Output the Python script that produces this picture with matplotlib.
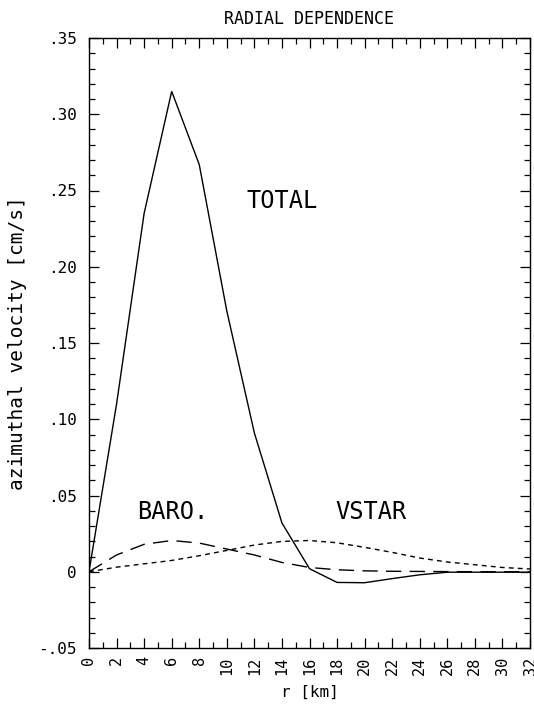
import matplotlib
matplotlib.use("Agg")
import matplotlib.pyplot as plt
import numpy as np
from matplotlib.ticker import MultipleLocator

r_km = [0, 2, 4, 6, 8, 10, 12, 14, 16, 18, 20, 22, 24, 26, 28, 30, 32]
total = [0.0, 0.110, 0.235, 0.315, 0.267, 0.171, 0.091, 0.032, 0.002, -0.007,
         -0.0072, -0.0045, -0.002, -0.0003, -0.0003, -0.0003, -0.0003]
baro = [0.0, 0.011, 0.018, 0.0205, 0.0188, 0.0149, 0.0110, 0.0061, 0.0028,
        0.0013, 0.0006, 0.0003, 0.0002, 0.0001, 0.0, 0.0, 0.0]
vstar = [0.0, 0.0030, 0.0052, 0.0074, 0.0105, 0.0140, 0.0175, 0.0199, 0.0205,
         0.0190, 0.0160, 0.0127, 0.0090, 0.0064, 0.0046, 0.0028, 0.0018]

x_ticks = list(range(0, 33, 2))
x_ticklabels = [str(v) for v in x_ticks]
y_ticks = [-0.05, 0.0, 0.05, 0.10, 0.15, 0.20, 0.25, 0.30, 0.35]
y_ticklabels = ["-.05", "0", ".05", ".10", ".15", ".20", ".25", ".30", ".35"]

FONT = "DejaVu Sans Mono"

fig = plt.figure(figsize=(5.34, 7.05), dpi=100)
ax = fig.add_axes([89 / 534, 1 - 648 / 705, 441 / 534, 610 / 705])

ax.plot(r_km, total, color="black", lw=1.0, solid_joinstyle="miter")
ax.plot(r_km, baro, color="black", lw=1.0, dashes=(11, 6))
ax.plot(r_km, vstar, color="black", lw=1.0, dashes=(3.5, 3))

ax.set_xlim(0, 32)
ax.set_ylim(-0.05, 0.35)

ax.set_xticks(x_ticks)
ax.set_xticklabels(x_ticklabels, rotation=90, fontfamily=FONT, fontsize=11)
ax.xaxis.set_minor_locator(MultipleLocator(1))
ax.set_yticks(y_ticks)
ax.set_yticklabels(y_ticklabels, fontfamily=FONT, fontsize=11.5)
ax.yaxis.set_minor_locator(MultipleLocator(0.01))

ax.tick_params(which="both", direction="in", top=True, right=True, width=0.9)
ax.tick_params(which="major", length=7)
ax.tick_params(which="minor", length=4)
ax.tick_params(axis="x", which="major", pad=6)
ax.tick_params(axis="y", which="major", pad=9)
for s in ax.spines.values():
    s.set_linewidth(1.0)

ax.text(11.45, 0.243, "TOTAL", fontfamily=FONT, fontsize=17, va="center", ha="left")
ax.text(3.5, 0.039, "BARO.", fontfamily=FONT, fontsize=17, va="center", ha="left")
ax.text(17.9, 0.039, "VSTAR", fontfamily=FONT, fontsize=17, va="center", ha="left")

ax.set_title("RADIAL DEPENDENCE", fontfamily=FONT, fontsize=12, pad=10)
ax.set_xlabel("r [km]", fontfamily=FONT, fontsize=11.5, labelpad=7)
ax.set_ylabel("azimuthal velocity [cm/s]", fontfamily=FONT, fontsize=14, labelpad=8)

fig.savefig("out.png", dpi=100)
